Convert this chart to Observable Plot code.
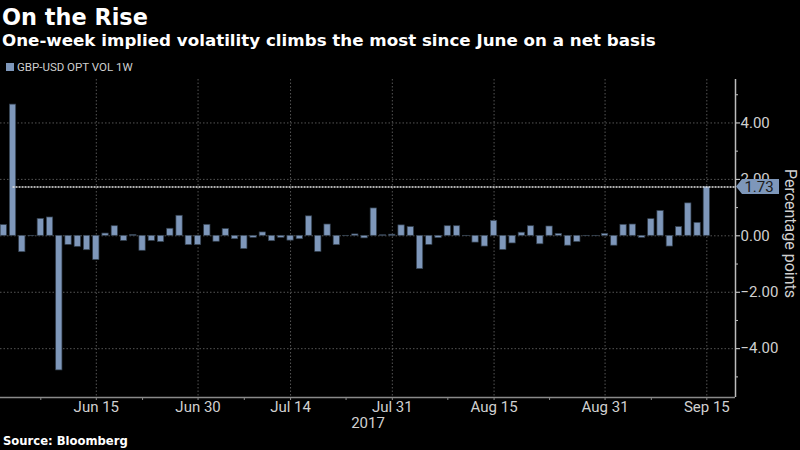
<!DOCTYPE html>
<html>
<head>
<meta charset="utf-8">
<script src="https://cdn.jsdelivr.net/npm/d3@7"></script>
<script src="https://cdn.jsdelivr.net/npm/@observablehq/plot@0.6"></script>
<style>
  html, body { margin: 0; padding: 0; background: #000; }
  #wrap { position: relative; width: 800px; height: 450px; background: #000; overflow: hidden; }
  .abs { position: absolute; white-space: nowrap; }
  #title { left: 2px; top: 4px; font: bold 22.4px "DejaVu Sans", sans-serif; color: #fff; }
  #subtitle { left: 2px; top: 29.5px; font: bold 16.7px "DejaVu Sans", sans-serif; color: #fff; }
  #legend { left: 6px; top: 60px; font: 11.5px Roboto, sans-serif; color: #cfcfcf; }
  #legend .sw { display: inline-block; width: 8px; height: 8px; background: #7e97ba; margin-right: 3px; vertical-align: -0px; }
  #chart { left: 0; top: 76px; }
  #source { left: 3px; top: 434px; font: bold 11.6px "DejaVu Sans", sans-serif; color: #fff; }
</style>
</head>
<body>
<div id="wrap">
  <div id="title" class="abs">On the Rise</div>
  <div id="subtitle" class="abs">One-week implied volatility climbs the most since June on a net basis</div>
  <div id="legend" class="abs"><span class="sw"></span>GBP-USD OPT VOL 1W</div>
  <div id="chart" class="abs"></div>
  <div id="source" class="abs">Source: Bloomberg</div>
</div>
<script>
// ---- data ----
const dates = [
  "2017-06-01","2017-06-02","2017-06-05","2017-06-06","2017-06-07","2017-06-08","2017-06-09","2017-06-12","2017-06-13","2017-06-14","2017-06-15","2017-06-16","2017-06-19","2017-06-20","2017-06-21","2017-06-22","2017-06-23","2017-06-26","2017-06-27","2017-06-28","2017-06-29","2017-06-30",
  "2017-07-03","2017-07-04","2017-07-05","2017-07-06","2017-07-07","2017-07-10","2017-07-11","2017-07-12","2017-07-13","2017-07-14","2017-07-17","2017-07-18","2017-07-19","2017-07-20","2017-07-21","2017-07-24","2017-07-25","2017-07-26","2017-07-27","2017-07-28","2017-07-31",
  "2017-08-01","2017-08-02","2017-08-03","2017-08-04","2017-08-07","2017-08-08","2017-08-09","2017-08-10","2017-08-11","2017-08-14","2017-08-15","2017-08-16","2017-08-17","2017-08-18","2017-08-21","2017-08-22","2017-08-23","2017-08-24","2017-08-25","2017-08-28","2017-08-29","2017-08-30","2017-08-31",
  "2017-09-01","2017-09-04","2017-09-05","2017-09-06","2017-09-07","2017-09-08","2017-09-11","2017-09-12","2017-09-13","2017-09-14","2017-09-15"
];
const values = [
  0.38, 4.65, -0.58, -0.01, 0.60, 0.65, -4.77, -0.32, -0.39, -0.51, -0.86, 0.08, 0.34, -0.18, 0.03, -0.53, -0.18, -0.22, 0.25, 0.71, -0.33, -0.33,
  0.39, -0.21, 0.24, -0.12, -0.47, -0.07, 0.12, -0.19, -0.07, -0.17, -0.12, 0.69, -0.57, 0.40, -0.33, -0.01, 0.05, -0.09, 0.97, 0.02, 0.04,
  0.37, 0.31, -1.18, -0.32, -0.08, 0.34, 0.34, -0.01, -0.24, -0.38, 0.53, -0.50, -0.27, 0.11, 0.34, -0.30, 0.33, 0.07, -0.35, -0.22, -0.01, -0.01, 0.07,
  -0.35, 0.39, 0.40, -0.07, 0.59, 0.88, -0.38, 0.31, 1.15, 0.46, 1.73
];
const majorTickDates = ["2017-06-15","2017-06-30","2017-07-14","2017-07-31","2017-08-15","2017-08-31","2017-09-15"];
const majorTickLabels = ["Jun 15","Jun 30","Jul 14","Jul 31","Aug 15","Aug 31","Sep 15"];
const minorTickDates = ["2017-06-07","2017-06-22","2017-07-07","2017-07-24","2017-08-08","2017-08-23","2017-09-07"];
const yTicks = [-4, -2, 0, 2, 4];
const yMinorTicks = [-5, -3, -1, 1, 3, 5];
const yearLabel = "2017";
const axisTitle = "Percentage points";
const refStartDate = "2017-06-02";

// ---- build ----
const barColor = "#7e97ba";
const table = dates.map((d, i) => ({date: d, i, value: values[i]}));
const last = table[table.length - 1];
const idx = d => dates.indexOf(d);
const majorIdx = majorTickDates.map(idx);
const minorIdx = minorTickDates.map(idx);
const labelOf = new Map(majorIdx.map((v, k) => [v, majorTickLabels[k]]));
const xMin = -0.357, xMax = 79.1;
const yMin = -5.73, yMax = 5.54;
const half = 0.34;

function valueFlag(index, scales, vals, dims) {
  const ns = "http://www.w3.org/2000/svg";
  const g = document.createElementNS(ns, "g");
  const y = scales.y(last.value);
  const x0 = dims.width - dims.marginRight + 1;
  const p = document.createElementNS(ns, "path");
  p.setAttribute("d", `M${x0},${y} L${x0 + 6},${y - 7.5} L${x0 + 43},${y - 7.5} L${x0 + 43},${y + 7.5} L${x0 + 6},${y + 7.5} Z`);
  p.setAttribute("fill", barColor);
  g.appendChild(p);
  const t = document.createElementNS(ns, "text");
  t.setAttribute("x", x0 + 23);
  t.setAttribute("y", y);
  t.setAttribute("dy", "0.35em");
  t.setAttribute("text-anchor", "middle");
  t.setAttribute("fill", "#1b1b1b");
  t.setAttribute("font-size", "15px");
  t.setAttribute("font-family", "Roboto, sans-serif");
  t.textContent = d3.format(".2f")(last.value);
  g.appendChild(t);
  return g;
}

const chart = Plot.plot({
  width: 800,
  height: 356,
  marginTop: 3,
  marginBottom: 35,
  marginLeft: 0,
  marginRight: 65,
  style: {background: "#000", color: "#cfcfcf", fontFamily: "Roboto, sans-serif", fontSize: "15px", overflow: "visible"},
  x: {type: "linear", domain: [xMin, xMax], axis: null},
  y: {domain: [yMin, yMax], axis: null},
  marks: [
    Plot.ruleY(yTicks, {stroke: "#555", strokeDasharray: "1.5,2"}),
    Plot.ruleX(majorIdx, {stroke: "#555", strokeDasharray: "1.5,2"}),
    Plot.rectY(table, {x1: d => d.i - half, x2: d => d.i + half, y: "value", fill: barColor, stroke: "#33404f", strokeWidth: 0.7}),
    Plot.ruleY([last.value], {x1: idx(refStartDate), x2: xMax, stroke: "#e6e6e6", strokeWidth: 1.5, strokeDasharray: "2,1"}),
    Plot.ruleY([yMin], {stroke: "#8a8a8a", strokeWidth: 1.5}),
    Plot.ruleX([xMax], {stroke: "#bdbdbd", strokeWidth: 1.5}),
    Plot.axisY({anchor: "right", ticks: yTicks, tickFormat: d3.format(".2f"), tickSize: 4, tickPadding: 1, label: null, stroke: "#e0e0e0", fill: "#d0d0d0", fontSize: 15}),
    Plot.axisY({anchor: "right", ticks: yMinorTicks, tickFormat: () => "", tickSize: 2, label: null, stroke: "#bdbdbd"}),
    Plot.axisX({anchor: "bottom", ticks: majorIdx, tickFormat: v => labelOf.get(v), tickSize: 3, tickPadding: 1, label: null, stroke: "#8a8a8a", fill: "#d0d0d0", fontSize: 15}),
    Plot.axisX({anchor: "bottom", ticks: minorIdx, tickFormat: () => "", tickSize: 3, label: null, stroke: "#8a8a8a"}),
    Plot.text([yearLabel], {frameAnchor: "bottom", lineAnchor: "bottom", dy: 30, fill: "#d0d0d0", fontSize: 15}),
    Plot.text([axisTitle], {frameAnchor: "right", textAnchor: "middle", rotate: 90, dx: 55, dy: -5, fill: "#d0d0d0", fontSize: 16}),
    valueFlag
  ]
});
document.getElementById("chart").appendChild(chart);
</script>
</body>
</html>
